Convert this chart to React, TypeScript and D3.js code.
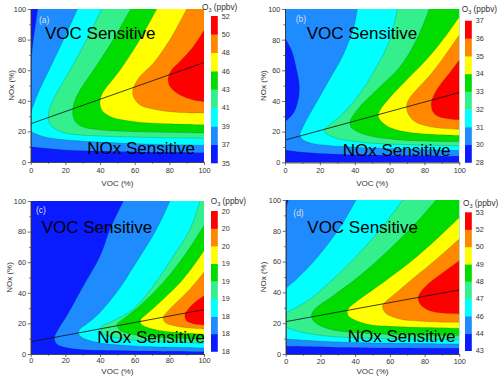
import React, { useEffect, useRef } from "react";
import * as d3 from "d3";

const W = 500;
const H = 378;

// band colours, lowest -> highest
const bandColors = ["#0a1cff", "#1e8cff", "#00ffff", "#33f08c", "#00dc00", "#ffff00", "#ff8800", "#ff0000"];
const majorTicks = [0, 20, 40, 60, 80, 100];
const minorTicks = [10, 30, 50, 70, 90];

// each contour = list of pieces, each piece a polyline [VOC, NOx] from border to border
// (high side on the left of the walking direction)

// (a)
const levelsA = ["35", "37", "39", "41", "43", "46", "48", "50", "52"];
const ridgeA = [[0, 25], [100, 65]];
const contoursA = [
  [[[0, 10], [10, 8.8], [20, 7.8], [40, 7], [70, 6.3], [100, 6]], [[4, 100], [2.8, 90], [1.5, 80], [0.5, 70], [0, 65]]],
  [[[27, 100], [19, 80], [10.5, 60], [5, 47], [2.5, 40], [0, 32]], [[0, 20], [5, 17.5], [12, 15.5], [25, 14], [50, 12.5], [75, 11.5], [100, 11]]],
  [[[41, 100], [32.3, 80], [22.7, 60], [15, 45], [11.2, 36], [10.2, 30], [11, 25], [15, 21], [22, 18.5], [40, 17], [70, 16], [100, 15.5]]],
  [[[57.7, 100], [47.7, 80], [36.2, 60], [28.5, 47], [25, 38.5], [24.2, 33], [24.5, 30], [26, 26], [30, 23], [40, 21], [60, 19.8], [100, 19]]],
  [[[72.7, 100], [63, 80], [51.5, 60], [43.8, 49], [41, 44], [40, 39.6], [41, 34], [45.8, 29.8], [59, 26.5], [78.5, 25], [100, 24.3]]],
  [[[90, 100], [80.4, 80], [70.8, 64.6], [63, 55.9], [59.8, 50], [58.8, 46], [59.6, 42], [63, 37.4], [72.7, 34.1], [86, 32.4], [100, 32]]],
  [[[100, 86], [93.8, 75.4], [86, 65.6], [81.3, 60.2], [79.4, 55], [80.4, 49.3], [86, 43.9], [93.8, 40.6], [100, 39.6]]],
];

// (b)
const levelsB = ["28", "30", "31", "32", "33", "34", "35", "36", "37"];
const ridgeB = [[0, 14.5], [100, 45.5]];
const contoursB = [
  [[[0, 8], [10, 6.5], [30, 5.2], [60, 4.5], [100, 4]], [[0, 81], [3.8, 73], [6.3, 62], [8.2, 50], [7.5, 40.6], [4.8, 32], [0, 26.5]]],
  [[[41.5, 100], [39.5, 88], [37, 80], [32.5, 68], [26, 55], [19, 41], [13, 29], [9.5, 21], [8.6, 18], [10, 15], [15, 12.5], [25, 11], [50, 9.3], [75, 8.3], [100, 7.6]]],
  [[[64.4, 100], [60.2, 80], [52.6, 62.4], [43, 45], [31.5, 29.8], [24.5, 23.5], [22.5, 21], [23.5, 19], [29.6, 15.7], [46.8, 12.8], [70, 11.5], [100, 10.7]]],
  [[[82.8, 100], [75.5, 80], [66, 62.4], [54.5, 49.3], [43, 36.3], [38, 28.5], [37.3, 26], [38.2, 22.5], [46.8, 17.8], [66, 14.6], [100, 13.5]]],
  [[[100, 95], [92, 82], [82, 68], [70, 54], [60, 42], [54.5, 34], [53.5, 31], [54, 28.5], [58, 24], [66, 20.5], [80, 18.5], [100, 17.5]]],
  [[[100, 83], [92, 70], [84, 58], [76, 48], [71, 41], [69.8, 37], [70.5, 32], [74, 27], [82, 23.5], [92, 22], [100, 21.5]]],
  [[[100, 66.7], [95, 59], [90, 52], [86, 45], [84, 39], [84.5, 34], [87, 30.5], [93, 28.5], [100, 27.6]]],
];

// (c)
const levelsC = ["18", "18", "18", "19", "19", "19", "20", "20", "20"];
const ridgeC = [[0, 8], [100, 29]];
const contoursC = [
  [[[53.5, 100], [45.8, 81.7], [40, 64], [29.4, 42.5], [20.8, 25], [16, 16.3], [13.7, 10.5], [15, 6.5], [20, 4.2], [30.4, 2.8], [60, 2], [100, 1.5]]],
  [[[80.4, 100], [72.7, 81.7], [61, 60], [49.6, 40.3], [40, 27.2], [32.3, 19.6], [28.5, 16.3], [27.5, 13.5], [29.4, 10.9], [38, 7.6], [59, 5.3], [100, 4]]],
  [[[97.7, 100], [92, 81.7], [82.3, 64], [70.8, 44.7], [59.2, 29.4], [45.8, 20.7], [41, 18.5], [40.5, 16], [42, 13], [55.4, 9.6], [78.5, 7.8], [100, 7]]],
  [[[100, 84], [90, 66.4], [76.5, 46.8], [63, 31.6], [53.5, 22.9], [50, 19.6], [50.5, 17], [52, 15], [63, 12], [82.3, 10.5], [100, 9.8]]],
  [[[100, 67.5], [88, 49], [74.6, 33.8], [67, 26.1], [63.5, 22.4], [63.5, 20], [65, 18.5], [74.6, 15.3], [88, 13.7], [100, 13]]],
  [[[100, 53.4], [92, 42.5], [84.2, 33.8], [78.5, 27.2], [76.5, 24], [77.5, 20.7], [84.2, 18.1], [93.8, 16.8], [100, 16.3]]],
  [[[100, 38.1], [94.8, 33.8], [91, 29.4], [89, 25.5], [90, 21.8], [94.8, 19.6], [100, 19]]],
];

// (d)
const levelsD = ["43", "44", "46", "47", "48", "49", "50", "52", "53"];
const ridgeD = [[0, 21], [100, 41.6]];
const contoursD = [
  [[[0, 5], [30, 4.3], [60, 3.9], [100, 3.7]], [[1.5, 100], [0.8, 97], [0, 93]]],
  [[[40.5, 100], [33.2, 85.5], [23.6, 70.3], [14, 57.4], [6.3, 48.7], [0, 42.6]], [[0, 9.7], [20, 8.3], [50, 7.2], [100, 6.5]]],
  [[[67.4, 100], [56.2, 83.3], [42.8, 66], [27.4, 48.7], [14, 35.7], [4.4, 29.2], [0, 26.6]], [[0, 17.3], [10, 14], [25, 11.5], [50, 10.2], [100, 9.3]]],
  [[[86.6, 100], [75.4, 85.5], [60, 68.2], [42.8, 50.9], [27.4, 37.9], [17.9, 30.3], [15, 26], [16, 21.6], [23.6, 16.7], [42.8, 13.6], [100, 11.9]]],
  [[[100, 88.7], [87, 74.7], [71.6, 59.5], [56.2, 46.5], [42.8, 35.7], [36, 29.2], [35.5, 26.5], [37, 23.8], [46.6, 19.5], [65.8, 17.7], [100, 16.7]]],
  [[[100, 74.7], [87, 61.7], [75.4, 50.9], [63.9, 40], [57.5, 34], [55.8, 31.5], [57.2, 27], [65.8, 22.7], [83.1, 21], [100, 20.6]]],
  [[[100, 60.6], [90.8, 53], [83.1, 46.5], [78.3, 41.1], [76.4, 36.8], [77.4, 32.5], [83.1, 28.1], [92.7, 26.4], [100, 26]]],
];

const panels = [
  { tag: "(a)", levels: levelsA, ridge: ridgeA, contours: contoursA,
    x0: 30.7, x1: 204, y0: 9, y1: 162, cbx: 211, cbTop: 16, cbBot: 163, titleX: 202, titleY: 9.5,
    tagPos: [39, 22.5], vocPos: [45, 39.3], noxPos: [87.3, 154], yTitleX: 13.8, xTitleY: 185.8, xPad: 3 },
  { tag: "(b)", levels: levelsB, ridge: ridgeB, contours: contoursB,
    x0: 285, x1: 459.3, y0: 9, y1: 162.3, cbx: 465, cbTop: 20.7, cbBot: 162.5, titleX: 461.7, titleY: 12,
    tagPos: [295.7, 22], vocPos: [306.7, 39.3], noxPos: [342.7, 155.7], yTitleX: 266, xTitleY: 185.8, xPad: 3 },
  { tag: "(c)", levels: levelsC, ridge: ridgeC, contours: contoursC,
    x0: 30.7, x1: 204, y0: 201, y1: 354, cbx: 211, cbTop: 211, cbBot: 351.5, titleX: 210.7, titleY: 204,
    tagPos: [36, 213], vocPos: [41.7, 233.3], noxPos: [97.3, 343], yTitleX: 12, xTitleY: 373.5, xPad: 1.3 },
  { tag: "(d)", levels: levelsD, ridge: ridgeD, contours: contoursD,
    x0: 285.7, x1: 459.3, y0: 200, y1: 354, cbx: 465, cbTop: 212.3, cbBot: 350.7, titleX: 463, titleY: 206,
    tagPos: [293.3, 215.5], vocPos: [307.3, 233], noxPos: [347.7, 341.7], yTitleX: 266, xTitleY: 373.5, xPad: 1.7 },
];

const FONT = "'Liberation Sans', Arial, sans-serif";
const cornerPt = [[0, 0], [100, 0], [100, 100], [0, 100]];

// position along the plot border, counter-clockwise from (0,0)
function perim([x, y]) {
  if (x >= 99.9) return 100 + y;
  if (y >= 99.9) return 300 - x;
  if (x <= 0.1) return 400 - y;
  return x;
}

function regionPath(pieces, line, sx, sy) {
  const used = new Set();
  let out = "";
  for (let i0 = 0; i0 < pieces.length; i0++) {
    if (used.has(i0)) continue;
    let i = i0;
    let first = true;
    while (!used.has(i)) {
      used.add(i);
      const seg = line(pieces[i]);
      out += first ? seg : seg.replace(/^M/, "L");
      first = false;
      const sB = perim(pieces[i][pieces[i].length - 1]);
      let best = i, bestD = Infinity;
      pieces.forEach((p, j) => {
        const d = (perim(p[0]) - sB + 400) % 400;
        if (d < bestD) { bestD = d; best = j; }
      });
      for (let k = Math.floor(sB / 100) + 1; k * 100 < sB + bestD; k++) {
        const c = cornerPt[k % 4];
        out += `L${sx(c[0])},${sy(c[1])}`;
      }
      i = best;
    }
    out += "Z";
  }
  return out;
}

export default function App() {
  const svgRef = useRef(null);

  useEffect(() => {
    const svg = d3.select(svgRef.current);
    svg.selectAll("*").remove();

    panels.forEach((p, pi) => {
      const x = d3.scaleLinear().domain([0, 100]).range([p.x0, p.x1]);
      const y = d3.scaleLinear().domain([0, 100]).range([p.y1, p.y0]);
      const line = d3.line().x(d => x(d[0])).y(d => y(d[1])).curve(d3.curveCatmullRom.alpha(0.5));

      const clipId = "clip" + pi;
      svg.append("clipPath").attr("id", clipId)
        .append("rect").attr("x", p.x0).attr("y", p.y0).attr("width", p.x1 - p.x0).attr("height", p.y1 - p.y0);

      const g = svg.append("g").attr("clip-path", `url(#${clipId})`);
      g.append("rect").attr("x", p.x0).attr("y", p.y0).attr("width", p.x1 - p.x0).attr("height", p.y1 - p.y0)
        .attr("fill", bandColors[0]);

      p.contours.forEach((pieces, k) => {
        g.append("path").attr("d", regionPath(pieces, line, x, y)).attr("fill", bandColors[k + 1]);
      });
      p.contours.forEach(pieces => {
        pieces.forEach(pc => {
          g.append("path").attr("d", line(pc)).attr("fill", "none")
            .attr("stroke", "#000").attr("stroke-opacity", 0.3).attr("stroke-width", 0.5);
        });
      });
      g.append("path").attr("d", d3.line().x(d => x(d[0])).y(d => y(d[1]))(p.ridge))
        .attr("fill", "none").attr("stroke", "#111").attr("stroke-width", 0.8);

      // labels inside plot
      g.append("text").attr("x", p.tagPos[0]).attr("y", p.tagPos[1]).text(p.tag)
        .attr("font-family", FONT).attr("font-size", 8.5).attr("fill", "#dcdcf0");
      g.append("text").attr("x", p.vocPos[0]).attr("y", p.vocPos[1]).text("VOC Sensitive")
        .attr("font-family", FONT).attr("font-size", 17).attr("fill", "#000");
      g.append("text").attr("x", p.noxPos[0]).attr("y", p.noxPos[1]).text("NOx Sensitive")
        .attr("font-family", FONT).attr("font-size", 17).attr("fill", "#000");

      // axes
      const styleAxis = sel => {
        sel.selectAll("path,line").attr("stroke", "#333").attr("stroke-width", 0.7);
        sel.selectAll("text").attr("font-family", FONT).attr("font-size", 7.3).attr("fill", "#333");
      };
      svg.append("g").attr("transform", `translate(0,${p.y1})`)
        .call(d3.axisBottom(x).tickValues(minorTicks).tickSize(1.6).tickSizeOuter(0).tickFormat(() => ""))
        .call(styleAxis);
      svg.append("g").attr("transform", `translate(0,${p.y1})`)
        .call(d3.axisBottom(x).tickValues(majorTicks).tickSize(3).tickSizeOuter(0).tickPadding(p.xPad))
        .call(styleAxis);
      svg.append("g").attr("transform", `translate(${p.x0},0)`)
        .call(d3.axisLeft(y).tickValues(minorTicks).tickSize(1.6).tickSizeOuter(0).tickFormat(() => ""))
        .call(styleAxis);
      svg.append("g").attr("transform", `translate(${p.x0},0)`)
        .call(d3.axisLeft(y).tickValues(majorTicks).tickSize(3).tickSizeOuter(0).tickPadding(1.7))
        .call(styleAxis);

      svg.append("text").attr("x", (p.x0 + p.x1) / 2).attr("y", p.xTitleY).attr("text-anchor", "middle")
        .attr("font-family", FONT).attr("font-size", 8).attr("fill", "#333").text("VOC (%)");
      svg.append("text").attr("transform", `translate(${p.yTitleX},${(p.y0 + p.y1) / 2}) rotate(-90)`)
        .attr("text-anchor", "middle").attr("font-family", FONT).attr("font-size", 8).attr("fill", "#333")
        .text("NOx (%)");

      // colour bar
      const cb = d3.scaleLinear().domain([0, bandColors.length]).range([p.cbBot, p.cbTop]);
      svg.append("g").selectAll("rect").data(bandColors).join("rect")
        .attr("x", p.cbx).attr("width", 6.8)
        .attr("y", (_, i) => cb(i + 1)).attr("height", (_, i) => cb(i) - cb(i + 1) + 0.3)
        .attr("fill", d => d);
      svg.append("g").selectAll("text").data(p.levels).join("text")
        .attr("x", p.cbx + 10.8).attr("y", (_, i) => cb(i)).attr("dy", "0.35em")
        .attr("font-family", FONT).attr("font-size", 7.2).attr("fill", "#333")
        .text(d => d);
      const t = svg.append("text").attr("x", p.titleX).attr("y", p.titleY)
        .attr("font-family", FONT).attr("font-size", 8.3).attr("fill", "#333");
      t.append("tspan").text("O");
      t.append("tspan").attr("font-size", 5.5).attr("dy", 2).text("3");
      t.append("tspan").attr("dy", -2).text(" (ppbv)");
    });
  }, []);

  return (
    <svg ref={svgRef} width={W} height={H}
      style={{ position: "absolute", left: 0, top: 0, display: "block", background: "#fff" }} />
  );
}
